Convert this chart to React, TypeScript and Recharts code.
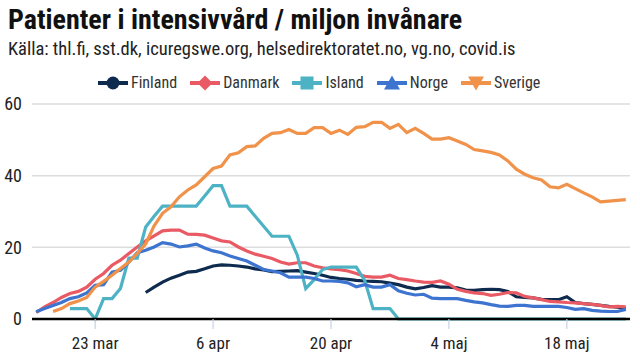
import { CartesianGrid, Line, LineChart, XAxis, YAxis } from "recharts";

// day 0 = 16 mar, one value per day up to 25 maj
const finland = [
  null, null, null, null, null, null, null, null, null, null, null, null, null,
  7.4, 8.9, 10.3, 11.4, 12.2, 13.1, 13.3, 14.0, 14.8, 15.1, 15.0, 14.8, 14.5, 14.0, 13.7, 13.2, 13.3,
  13.4, 13.5, 13.1, 12.7, 12.2, 11.6, 11.3, 11.1, 10.8, 10.6, 10.5, 10.4, 10.0, 9.6, 8.9, 8.4, 8.8,
  9.3, 8.9, 8.9, 8.7, 8.1, 8.0, 8.2, 8.3, 8.2, 7.7, 6.2, 6.0, 5.9, 5.5, 5.4, 5.4, 6.2, 4.6, 4.3,
  4.1, 3.8, 3.5, 3.3, 3.0,
];
const danmark = [
  1.8, 3.4, 4.6, 6.0, 7.1, 7.7, 8.9, 11.1, 12.7, 15.0,
  16.4, 18.3, 20.1, 21.8, 23.2, 24.6, 24.8, 24.8, 23.7, 23.6,
  23.4, 22.6, 21.8, 21.5, 20.1, 19.0, 18.1, 17.5, 16.9, 15.9,
  15.3, 15.7, 15.7, 14.8, 14.3, 14.0, 13.8, 13.4, 12.7, 11.9,
  11.7, 11.7, 12.2, 11.3, 11.0, 10.6, 10.3, 10.2, 10.6, 9.7,
  8.3, 7.7, 7.3, 7.1, 6.6, 6.9, 7.4, 7.3, 6.3, 5.9,
  5.4, 4.9, 4.8, 4.6, 4.5, 4.3, 4.1, 3.8, 3.4, 3.5, 3.4,
];
const island = [
  null, null, null, null, 2.9, 2.9, 2.9, 0, 5.7, 5.7,
  8.5, 17, 17, 25.7, 28.7, 31.5, 31.5, 31.5, 31.5, 31.5,
  34.3, 37.2, 37.2, 31.5, 31.5, 31.5, 28.7, 25.9, 23.1, 23.1,
  23.1, 17.8, 8.5, 11, 13.8, 14.5, 14.5, 14.5, 14.5, 10.8,
  2.9, 2.9, 2.9, 0, 0, 0, 0, 0, 0, 0,
  0, 0, 0, 0, 0, 0, 0, 0, 0, 0,
  0, 0, 0, 0, 0, 0, 0, 0, 0, 0, 0,
];
const norge = [
  2.0, 2.9, 3.8, 4.6, 5.7, 6.2, 7.3, 9.4, 9.6, 13.1,
  13.6, 15.9, 18.5, 19.2, 20.1, 21.3, 20.9, 20.1, 20.4, 20.9,
  19.8, 19.0, 18.5, 17.6, 16.9, 16.2, 15.0, 13.8, 13.4, 12.9,
  11.7, 11.7, 11.7, 11.3, 10.6, 10.6, 10.5, 10.1, 9.0, 9.6,
  8.9, 8.9, 9.6, 7.9, 7.2, 6.7, 6.9, 5.8, 5.7, 5.7,
  5.7, 5.2, 4.8, 4.5, 4.0, 3.6, 3.5, 3.8, 3.8, 3.5,
  3.5, 3.5, 3.5, 3.2, 2.7, 2.9, 2.4, 2.2, 2.1, 2.1, 2.7,
];
const sverige = [
  null, null, 2.1, 2.9, 4.3, 5.0, 6.0, 8.9, 10.5, 12.2,
  14.1, 15.9, 18.3, 21.0, 26.0, 29.5, 31.3, 34.1, 36.0, 37.4,
  39.7, 42.0, 42.7, 45.8, 46.4, 48.1, 48.3, 50.4, 51.8, 52.0,
  52.9, 51.8, 51.8, 53.4, 53.4, 51.8, 52.7, 51.5, 53.5, 53.7,
  54.9, 54.9, 53.2, 54.3, 52.0, 53.2, 51.8, 50.2, 50.2, 50.6,
  49.7, 48.7, 47.3, 46.9, 46.5, 45.8, 44.1, 41.8, 40.4, 39.4,
  38.8, 36.9, 36.6, 37.6, 36.4, 35.2, 34.1, 32.7, 32.9, 33.1, 33.3,
];

const xTickDays = [7, 21, 35, 49, 63];
const xTickLabels = ["23 mar", "6 apr", "20 apr", "4 maj", "18 maj"];
const yTicks = [0, 20, 40, 60];

const series = [
  { key: "finland", name: "Finland", color: "#0e2a4e", shape: "circle", values: finland },
  { key: "danmark", name: "Danmark", color: "#ea5a64", shape: "diamond", values: danmark },
  { key: "island", name: "Island", color: "#4db3c4", shape: "square", values: island },
  { key: "norge", name: "Norge", color: "#3d74cf", shape: "triangle", values: norge },
  { key: "sverige", name: "Sverige", color: "#f0924a", shape: "triangleDown", values: sverige },
];

const data = danmark.map((_, d) => {
  const row: any = { d };
  series.forEach((s) => (row[s.key] = s.values[d]));
  return row;
});

const font = "'Liberation Sans Narrow', 'Roboto Condensed', 'DejaVu Sans Condensed', sans-serif";

const Marker = ({ shape, color }: { shape: string; color: string }) => {
  let m;
  if (shape === "circle") m = <circle cx={15} cy={8} r={6.5} fill={color} />;
  else if (shape === "diamond") m = <polygon points="15,0.5 22.5,8 15,15.5 7.5,8" fill={color} />;
  else if (shape === "square") m = <rect x={8.5} y={1.5} width={13} height={13} fill={color} />;
  else if (shape === "triangle") m = <polygon points="15,0.5 23,14.5 7,14.5" fill={color} />;
  else m = <polygon points="7,1.5 23,1.5 15,15.5" fill={color} />;
  return (
    <svg width={30} height={16} style={{ display: "block" }}>
      <line x1={0} y1={8} x2={30} y2={8} stroke={color} strokeWidth={4} />
      {m}
    </svg>
  );
};

export default function App() {
  return (
    <div style={{ position: "fixed", left: 0, top: 0, width: 640, height: 360, background: "#fff", fontFamily: font }}>
      <div style={{ position: "absolute", left: 8, top: 3, fontSize: 28, fontWeight: 700, color: "#111", whiteSpace: "nowrap" }}>
        Patienter i intensivvård / miljon invånare
      </div>
      <div style={{ position: "absolute", left: 8, top: 38, fontSize: 18.5, color: "#222", whiteSpace: "nowrap" }}>
        Källa: thl.fi, sst.dk, icuregswe.org, helsedirektoratet.no, vg.no, covid.is
      </div>
      <div style={{ position: "absolute", left: 98, top: 73, display: "flex", alignItems: "center", gap: 13 }}>
        {series.map((s) => (
          <div key={s.key} style={{ display: "flex", alignItems: "center", gap: 3 }}>
            <Marker shape={s.shape} color={s.color} />
            <span style={{ fontSize: 16, color: "#333" }}>{s.name}</span>
          </div>
        ))}
      </div>
      <LineChart width={640} height={360} data={data} margin={{ top: 104, right: 10, bottom: 0, left: 0 }}>
        <CartesianGrid vertical={false} stroke="#dddddd" strokeWidth={1.5} />
        <XAxis
          dataKey="d"
          type="number"
          domain={[-0.5, 70.5]}
          ticks={xTickDays}
          tickFormatter={(v) => xTickLabels[xTickDays.indexOf(v)]}
          height={41}
          tickSize={10}
          tickMargin={8}
          axisLine={{ stroke: "#000", strokeWidth: 2.5 }}
          tickLine={{ stroke: "#c7d0e4", strokeWidth: 1.2 }}
          tick={{ fontSize: 17, fill: "#222", fontFamily: font }}
        />
        <YAxis
          domain={[0, 60]}
          ticks={yTicks}
          width={32}
          axisLine={false}
          tickLine={false}
          tickMargin={4}
          tick={{ fontSize: 18, fill: "#222", fontFamily: font }}
        />
        {series.map((s) => (
          <Line
            key={s.key}
            dataKey={s.key}
            name={s.name}
            stroke={s.color}
            strokeWidth={3.2}
            dot={false}
            type="linear"
            isAnimationActive={false}
          />
        ))}
      </LineChart>
    </div>
  );
}
